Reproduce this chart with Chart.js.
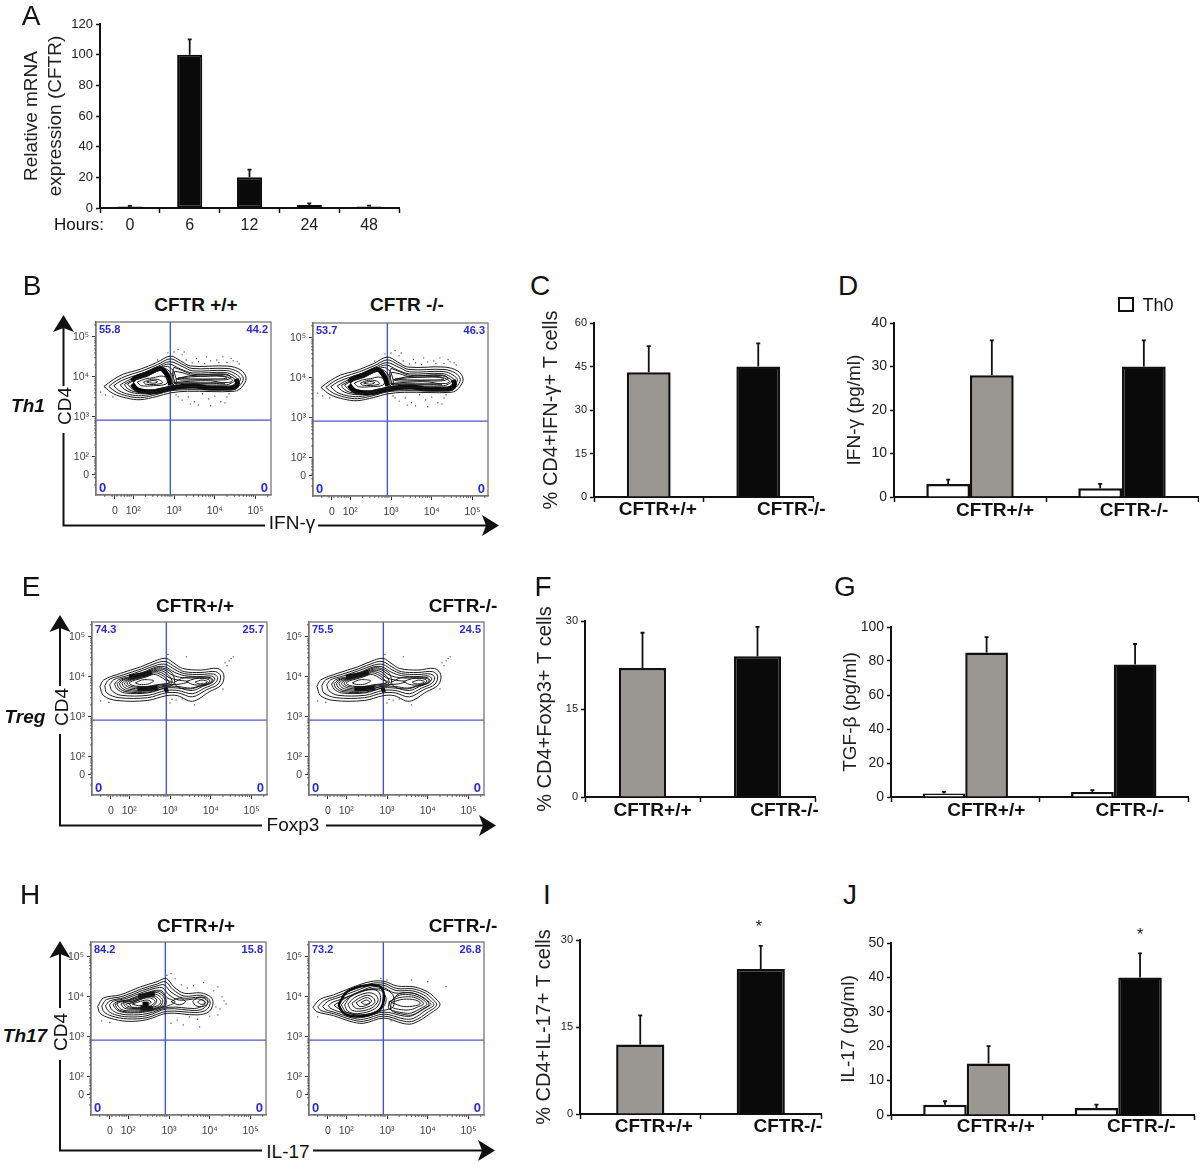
<!DOCTYPE html>
<html>
<head>
<meta charset="utf-8">
<title>CFTR T cell panels</title>
<script src="https://cdn.jsdelivr.net/npm/chart.js@4"></script>
<style>
    body { margin: 0; background: #fff; }
    #page { position: relative; width: 1200px; height: 1163px; overflow: hidden; font-family: 'Liberation Sans', Arial, sans-serif; color: #111; }
    #page canvas { position: absolute; }
    #page svg { position: absolute; left: 0; top: 0; }
    .txt { position: absolute; white-space: nowrap; line-height: 1; }
    .swatch { position: absolute; box-sizing: border-box; border: 2px solid #111; background: #fff; }
</style>
</head>
<body>
<div id="page">
    <svg width="1200" height="1163" stroke="#111" stroke-width="2" fill="#111">
        <path fill="none" d="M63.5 328V386M63.5 433V525.5H265M318 525.5H488"/>
        <path stroke="none" d="M63.5 315L74 332L63.5 328L53 332ZM499 525.5L482 515L486 525.5L482 536Z"/>
        <path fill="none" d="M60 628V686M60 734V825.5H262M326 825.5H484"/>
        <path stroke="none" d="M60 615L70.500 632L60 628L49.500 632ZM496 825.500L479 815L483 825.500L479 836Z"/>
        <path fill="none" d="M60 954V1008M60 1060V1150.500H262M313 1150.500H483"/>
        <path stroke="none" d="M60 941L70.500 958L60 954L49.500 958ZM495 1150.500L478 1140L482 1150.500L478 1161Z"/>
    </svg>
    <div class="swatch" style="left:1118px;top:297px;width:16px;height:15px"></div>
</div>
<script>
// ---- bar data
const hours = ['0', '6', '12', '24', '48']
const mrnaValues = [1, 100, 20, 2, 1]
const mrnaTops = [1.4, 110, 25, 3, 1.6]

const genotypes = ['CFTR+/+', 'CFTR-/-']

const ifnPct = [43, 45]
const ifnPctTops = [52, 53]
const ifnTh0 = [3, 2]
const ifnTh0Tops = [4, 3]
const ifnTh1 = [28, 30]
const ifnTh1Tops = [36, 36]

const foxp3Pct = [22, 24]
const foxp3PctTops = [28, 29]
const tgfTh0 = [2, 3]
const tgfTh0Tops = [3, 4]
const tgfTreg = [85, 78]
const tgfTregTops = [94, 90]

const il17Pct = [12, 25]
const il17PctTops = [17, 29]
const il17Th0 = [3, 2]
const il17Th0Tops = [4, 3]
const il17Th17 = [15, 40]
const il17Th17Tops = [20, 47]

// ---- flow plots, all values in decades of the log axis (2 = 10^2)
const flowTicks = [1.55, 2, 3, 4, 5]
const flowTickLabels = ['0', '10²', '10³', '10⁴', '10⁵']
const minorOffsets = [0.3, 0.48, 0.6, 0.7, 0.78, 0.85, 0.9, 0.95]
const gateX = 2.91
const gateY = 2.92

const th1Thin = [
    [1.28,3.76, 1.51,3.93, 1.76,4.07, 2.17,4.19, 2.58,4.36, 2.91,4.52, 3.16,4.40, 3.41,4.27, 4.31,4.27, 4.64,4.17, 4.77,3.97, 4.66,3.74, 4.48,3.64, 3.33,3.64, 2.91,3.60, 2.58,3.51, 2.17,3.43, 1.84,3.47, 1.51,3.58],
    [1.40,3.76, 1.58,3.90, 1.85,4.03, 2.22,4.15, 2.60,4.31, 2.91,4.45, 3.18,4.33, 3.44,4.21, 4.30,4.21, 4.58,4.12, 4.70,3.96, 4.60,3.77, 4.44,3.68, 3.33,3.68, 2.90,3.65, 2.58,3.56, 2.18,3.48, 1.86,3.52, 1.58,3.62],
    [1.52,3.78, 1.70,3.90, 1.95,4.00, 2.28,4.11, 2.60,4.26, 2.90,4.38, 3.20,4.26, 3.46,4.15, 4.28,4.16, 4.52,4.07, 4.63,3.95, 4.54,3.80, 4.40,3.72, 3.33,3.72, 2.90,3.69, 2.58,3.60, 2.20,3.53, 1.90,3.56, 1.66,3.65],
    [1.68,3.80, 1.85,3.90, 2.05,3.99, 2.32,4.08, 2.60,4.22, 2.88,4.32, 3.15,4.20, 3.45,4.10, 4.25,4.11, 4.46,4.03, 4.56,3.93, 4.48,3.82, 4.35,3.76, 3.35,3.76, 2.90,3.73, 2.60,3.64, 2.25,3.58, 1.95,3.61, 1.78,3.69],
    [3.00,4.24, 3.20,4.16, 3.48,4.06, 4.22,4.06, 4.42,3.99, 4.50,3.92, 4.40,3.84, 4.28,3.80, 3.35,3.80, 2.98,3.78, 2.95,4.00],
    [3.02,4.14, 3.22,4.10, 3.50,4.02, 4.18,4.03, 4.36,3.97, 4.44,3.91, 4.34,3.86, 3.35,3.85, 3.00,3.84, 2.98,4.00],
    [1.78,3.81, 1.92,3.89, 2.08,3.96, 2.34,4.05, 2.60,4.18, 2.84,4.26, 3.00,4.12, 3.05,3.80, 2.90,3.76, 2.60,3.67, 2.28,3.61, 1.99,3.64, 1.86,3.71],
    [1.86,3.82, 1.98,3.89, 2.10,3.94, 2.36,4.02, 2.60,4.15, 2.80,4.20, 2.95,4.05, 3.00,3.82, 2.60,3.70, 2.30,3.64, 2.03,3.67, 1.93,3.74],
    [3.05,3.95, 3.35,4.02, 3.80,4.06, 4.25,4.07, 4.40,4.00, 4.30,3.93, 3.70,3.93, 3.20,3.92],
    [3.10,3.97, 3.40,4.00, 3.90,4.02, 4.20,4.01, 4.30,3.97, 4.10,3.95, 3.40,3.95],
    [2.10,3.87, 2.30,3.95, 2.50,3.98, 2.70,4.02, 2.85,3.95, 2.80,3.82, 2.50,3.78, 2.20,3.78],
    [2.25,3.87, 2.45,3.94, 2.65,3.92, 2.72,3.85, 2.50,3.81, 2.30,3.82],
    [2.33,3.87, 2.48,3.91, 2.60,3.88, 2.48,3.84],
    [3.00,3.86, 3.40,3.84, 3.90,3.84, 4.25,3.83, 3.90,3.90, 3.40,3.89]
]
const th1Heavy = [
    [1.97,3.90, 2.05,3.97, 2.34,4.08, 2.67,4.21, 2.83,4.05, 2.92,3.80],
    [1.97,3.82, 2.10,3.68, 2.34,3.63, 2.60,3.64, 2.83,3.70, 3.20,3.76, 3.49,3.78, 3.80,3.73, 4.20,3.72, 4.48,3.74, 4.56,3.85, 4.52,3.95]
]
const th1DotsX = [1.2, 1.32, 1.5, 2.6, 3.0, 3.1, 3.2, 3.3, 3.45, 3.6, 3.75, 3.9, 4.05, 4.2, 4.3, 4.45, 4.6, 3.05, 3.2, 3.35, 3.5, 3.7, 3.85, 4.0, 4.15, 4.3, 3.6, 3.9, 4.25, 3.25, 3.55, 3.8, 4.1, 4.4, 4.55, 2.85, 3.1, 3.4, 4.35]
const th1DotsY = [3.62, 3.55, 3.5, 4.42, 4.62, 4.68, 4.55, 4.42, 4.35, 4.38, 4.33, 4.4, 4.42, 4.5, 4.36, 4.4, 4.32, 3.55, 3.42, 3.5, 3.38, 3.58, 3.45, 3.52, 3.38, 3.5, 3.3, 3.28, 3.35, 4.62, 4.46, 4.5, 4.36, 4.46, 4.38, 4.6, 3.5, 3.32, 3.58]

const tregThin = [
    [1.28,3.76, 1.37,3.92, 1.79,4.09, 2.28,4.25, 2.69,4.42, 2.91,4.46, 3.10,4.34, 3.31,4.21, 3.76,4.17, 4.17,4.21, 4.32,4.05, 4.26,3.80, 3.97,3.63, 3.55,3.39, 3.18,3.53, 2.91,3.53, 2.44,3.41, 1.70,3.41, 1.37,3.53],
    [1.40,3.78, 1.50,3.93, 1.85,4.05, 2.30,4.20, 2.70,4.36, 2.90,4.38, 3.12,4.25, 3.35,4.13, 3.76,4.11, 4.12,4.13, 4.24,4.02, 4.18,3.82, 3.90,3.68, 3.55,3.50, 3.20,3.60, 2.90,3.60, 2.45,3.48, 1.75,3.48, 1.45,3.60],
    [1.52,3.80, 1.62,3.93, 1.92,4.02, 2.32,4.16, 2.70,4.30, 2.90,4.31, 3.12,4.18, 3.36,4.08, 3.76,4.06, 4.07,4.07, 4.17,3.98, 4.10,3.84, 3.85,3.72, 3.55,3.58, 3.20,3.66, 2.90,3.66, 2.46,3.54, 1.80,3.54, 1.58,3.65],
    [1.64,3.82, 1.74,3.93, 2.00,4.00, 2.35,4.12, 2.68,4.25, 2.88,4.25, 3.10,4.12, 3.36,4.03, 3.76,4.01, 4.02,4.02, 4.10,3.95, 4.03,3.86, 3.80,3.76, 3.55,3.66, 3.20,3.72, 2.90,3.72, 2.46,3.60, 1.88,3.60, 1.70,3.70],
    [1.70,3.83, 1.80,3.92, 2.04,3.99, 2.36,4.10, 2.67,4.22, 2.86,4.21, 3.06,4.08, 3.10,3.84, 2.90,3.74, 2.46,3.62, 1.92,3.63, 1.75,3.72],
    [1.76,3.83, 1.85,3.92, 2.08,3.98, 2.38,4.08, 2.66,4.19, 2.85,4.18, 3.05,4.05, 3.30,3.98, 3.72,3.97, 3.98,3.96, 4.03,3.90, 3.95,3.84, 3.75,3.78, 3.50,3.72, 3.20,3.76, 2.88,3.76, 2.46,3.65, 1.95,3.66, 1.80,3.74],
    [1.82,3.84, 1.90,3.91, 2.12,3.97, 2.39,4.06, 2.64,4.16, 2.83,4.14, 3.00,4.00, 3.05,3.84, 2.90,3.78, 2.46,3.67, 2.00,3.69, 1.86,3.76],
    [1.88,3.84, 1.96,3.91, 2.15,3.96, 2.40,4.04, 2.62,4.13, 2.80,4.10, 2.98,3.98, 3.20,3.92, 3.45,3.88, 3.25,3.82, 2.95,3.80, 2.70,3.76, 2.45,3.70, 2.05,3.72, 1.92,3.78],
    [1.94,3.85, 2.02,3.91, 2.18,3.95, 2.41,4.02, 2.61,4.10, 2.77,4.06, 2.92,3.95, 2.98,3.85, 2.65,3.78, 2.45,3.73, 2.10,3.75, 1.98,3.79],
    [2.00,3.85, 2.08,3.90, 2.22,3.94, 2.42,4.00, 2.60,4.06, 2.74,4.02, 2.88,3.93, 3.05,3.87, 2.90,3.83, 2.65,3.80, 2.45,3.76, 2.15,3.77, 2.03,3.81],
    [2.15,3.85, 2.30,3.92, 2.45,3.93, 2.60,3.90, 2.45,3.82, 2.25,3.81],
    [3.10,3.86, 3.35,3.98, 3.72,3.99, 3.99,3.98, 4.06,3.90, 3.96,3.82, 3.72,3.76, 3.50,3.70, 3.20,3.74],
    [3.40,3.88, 3.60,3.95, 3.85,3.96, 3.98,3.90, 3.88,3.82, 3.60,3.80],
    [3.62,3.87, 3.78,3.92, 3.92,3.88, 3.82,3.83, 3.68,3.83]
]
const tregHeavy = [
    [2.00,3.99, 2.20,4.03, 2.40,4.07, 2.55,4.12],
    [2.20,3.71, 2.45,3.71, 2.70,3.73],
    [2.86,3.66, 2.95,3.70]
]
const tregDotsX = [1.3, 1.5, 2.95, 3.4, 3.3, 4.35, 4.45, 4.5, 4.55, 3.0, 3.05, 3.6, 4.3, 4.4, 3.15]
const tregDotsY = [3.4, 3.36, 4.56, 4.5, 3.45, 4.35, 4.4, 4.46, 4.5, 3.35, 3.44, 3.3, 3.7, 4.28, 3.42]

const th17wtThin = [
    [1.25,3.76, 1.39,3.97, 1.80,4.05, 2.30,4.25, 2.71,4.38, 2.93,4.46, 3.12,4.25, 3.37,4.09, 3.78,4.10, 4.02,4.00, 4.08,3.84, 3.98,3.63, 3.69,3.55, 2.95,3.59, 2.46,3.43, 1.97,3.39, 1.55,3.47, 1.31,3.59],
    [1.35,3.77, 1.46,3.93, 1.85,4.01, 2.33,4.20, 2.71,4.32, 2.91,4.38, 3.10,4.18, 3.37,4.02, 3.78,4.04, 3.96,3.96, 4.01,3.84, 3.92,3.68, 3.69,3.61, 2.95,3.64, 2.46,3.48, 1.98,3.45, 1.60,3.52, 1.40,3.63],
    [1.44,3.78, 1.55,3.90, 1.90,3.98, 2.35,4.16, 2.70,4.27, 2.88,4.30, 3.05,4.12, 3.34,3.97, 3.76,3.99, 3.91,3.93, 3.95,3.84, 3.86,3.72, 3.66,3.66, 2.95,3.70, 2.46,3.53, 2.00,3.50, 1.66,3.56, 1.50,3.66],
    [1.54,3.80, 1.63,3.89, 1.95,3.96, 2.37,4.12, 2.68,4.22, 2.85,4.22, 3.00,4.05, 3.25,3.92, 3.70,3.95, 3.85,3.90, 3.88,3.84, 3.80,3.76, 3.62,3.71, 3.00,3.74, 2.46,3.58, 2.02,3.55, 1.72,3.60, 1.58,3.70],
    [1.63,3.81, 1.72,3.88, 2.00,3.93, 2.38,4.08, 2.66,4.16, 2.82,4.15, 2.95,3.98, 3.15,3.88, 2.98,3.78, 2.46,3.63, 2.04,3.60, 1.78,3.64, 1.67,3.73],
    [1.68,3.82, 1.76,3.88, 2.02,3.92, 2.39,4.06, 2.65,4.14, 2.80,4.12, 2.92,3.96, 2.90,3.78, 2.46,3.65, 2.05,3.62, 1.80,3.66, 1.71,3.74],
    [1.72,3.82, 1.80,3.87, 2.05,3.91, 2.40,4.04, 2.63,4.11, 2.78,4.08, 2.90,3.93, 2.85,3.78, 2.46,3.67, 2.06,3.65, 1.84,3.68, 1.76,3.76],
    [1.82,3.82, 1.90,3.87, 2.10,3.89, 2.40,4.00, 2.60,4.04, 2.72,3.98, 2.80,3.88, 2.72,3.78, 2.44,3.71, 2.10,3.69, 1.90,3.72],
    [1.88,3.83, 1.96,3.87, 2.12,3.90, 2.40,4.02, 2.60,4.08, 2.75,4.03, 2.85,3.90, 2.76,3.76, 2.45,3.69, 2.12,3.71, 1.95,3.74],
    [1.94,3.82, 2.10,3.86, 2.38,3.96, 2.55,3.97, 2.66,3.88, 2.55,3.78, 2.35,3.74, 2.10,3.74, 1.98,3.77],
    [2.02,3.83, 2.15,3.87, 2.40,3.98, 2.58,4.00, 2.70,3.92, 2.60,3.76, 2.35,3.72, 2.12,3.72],
    [2.10,3.82, 2.30,3.89, 2.48,3.92, 2.56,3.86, 2.45,3.80, 2.25,3.78],
    [3.58,3.88, 3.70,3.98, 3.88,3.98, 3.96,3.87, 3.84,3.76, 3.66,3.78],
    [3.70,3.87, 3.80,3.93, 3.90,3.86, 3.80,3.81],
    [3.05,3.88, 3.25,3.97, 3.40,3.88, 3.25,3.80]
]
const th17wtHeavy = [
    [2.25,4.00, 2.45,4.05, 2.65,4.07],
    [2.30,3.72, 2.45,3.72, 2.60,3.70],
    [2.35,3.82, 2.50,3.82]
]
const th17wtDotsX = [1.35, 1.55, 2.95, 3.05, 3.15, 3.3, 3.45, 3.6, 3.85, 4.1, 4.2, 4.3, 4.35, 4.15, 4.25, 4.0, 3.7, 3.5, 3.35, 3.2, 3.05, 3.75, 4.2, 4.4]
const th17wtDotsY = [3.4, 3.36, 4.54, 4.58, 4.45, 4.3, 4.22, 4.28, 4.36, 4.15, 4.25, 4.0, 3.9, 3.75, 3.7, 3.52, 3.44, 3.5, 3.3, 3.42, 3.34, 3.25, 3.55, 3.82]

const th17koThin = [
    [1.18,3.74, 1.36,3.94, 1.69,4.05, 2.18,4.25, 2.59,4.38, 2.92,4.39, 3.25,4.27, 3.66,4.25, 3.99,4.13, 4.15,4.00, 4.30,3.80, 4.07,3.59, 3.66,3.34, 3.42,3.33, 2.92,3.47, 2.42,3.34, 2.09,3.39, 1.69,3.53, 1.28,3.63],
    [1.30,3.75, 1.46,3.91, 1.74,4.01, 2.22,4.20, 2.60,4.33, 2.92,4.34, 3.24,4.21, 3.64,4.20, 3.95,4.09, 4.09,3.97, 4.22,3.80, 4.02,3.63, 3.66,3.40, 3.42,3.39, 2.92,3.52, 2.42,3.39, 2.10,3.44, 1.72,3.57, 1.38,3.66],
    [1.42,3.76, 1.55,3.89, 1.80,3.98, 2.26,4.16, 2.62,4.29, 2.92,4.29, 3.22,4.16, 3.62,4.15, 3.90,4.05, 4.03,3.94, 4.15,3.80, 3.96,3.67, 3.64,3.46, 3.42,3.45, 2.92,3.57, 2.42,3.44, 2.12,3.48, 1.76,3.60, 1.50,3.68],
    [1.56,3.78, 1.67,3.87, 1.88,3.94, 2.30,4.12, 2.64,4.25, 2.90,4.24, 3.18,4.10, 3.60,4.10, 3.85,4.01, 3.97,3.92, 4.08,3.81, 3.90,3.71, 3.62,3.53, 3.42,3.52, 2.92,3.62, 2.42,3.49, 2.14,3.53, 1.82,3.63, 1.62,3.71],
    [1.70,3.79, 1.82,3.87, 2.00,3.98, 2.34,4.12, 2.66,4.21, 2.90,4.20, 3.14,4.06, 3.15,3.75, 2.90,3.66, 2.42,3.54, 2.16,3.57, 1.88,3.66],
    [1.88,3.80, 2.02,3.95, 2.40,4.14, 2.70,4.18, 2.88,4.14, 2.98,3.92, 2.84,3.68, 2.35,3.55, 2.00,3.62],
    [3.12,3.92, 3.30,4.08, 3.60,4.10, 3.85,4.00, 4.03,3.82, 3.88,3.68, 3.62,3.55, 3.42,3.56, 3.10,3.67],
    [3.05,3.86, 3.30,4.04, 3.60,4.05, 3.82,3.97, 3.98,3.82, 3.84,3.72, 3.60,3.60, 3.40,3.60, 3.05,3.70],
    [3.05,3.88, 3.30,3.98, 3.60,4.00, 3.78,3.94, 3.90,3.83, 3.78,3.76, 3.58,3.68, 3.35,3.68, 3.10,3.75],
    [3.10,3.86, 3.40,3.94, 3.70,3.92, 3.82,3.84, 3.70,3.78, 3.40,3.76],
    [1.96,3.80, 2.12,4.02, 2.50,4.18, 2.78,4.14, 2.84,3.92, 2.70,3.70, 2.28,3.58, 2.04,3.64],
    [2.04,3.82, 2.20,3.98, 2.52,4.10, 2.72,4.05, 2.78,3.90, 2.62,3.72, 2.30,3.64, 2.12,3.68],
    [2.14,3.84, 2.30,3.96, 2.52,4.04, 2.66,3.98, 2.70,3.86, 2.56,3.76, 2.32,3.70, 2.20,3.74],
    [2.24,3.85, 2.38,3.94, 2.52,3.98, 2.62,3.90, 2.52,3.80, 2.34,3.76],
    [2.36,3.86, 2.50,3.92, 2.58,3.86, 2.48,3.81]
]
const th17koHeavy = [
    [1.81,3.80, 2.02,4.13, 2.51,4.29, 2.85,4.24, 2.92,3.92, 2.76,3.63, 2.27,3.51, 1.94,3.59, 1.81,3.80]
]
const th17koDotsX = [2.85, 3.0, 3.6, 4.0, 4.45, 1.3, 3.1]
const th17koDotsY = [4.46, 4.42, 4.42, 4.38, 4.26, 3.5, 3.4]

// ---- helpers
const page = document.getElementById('page')
const SANS = "'Liberation Sans', Arial, sans-serif"
const NARROW = "'Liberation Sans Narrow', 'Liberation Sans', sans-serif"
const GRAY = '#9a9691'
const BLACK = '#0a0a0a'

const toPoints = (flat, closed) => {
    const pts = []
    for (let i = 0; i < flat.length; i += 2) pts.push({ x: flat[i], y: flat[i + 1] })
    if (closed) pts.push(pts[0])
    return pts
}

// the axes keep exactly the room we give them, no extra padding for half labels
const fixBox = (s, height, width) => {
    if (height !== null) s.height = height
    if (width !== null) s.width = width
    s.paddingTop = s.paddingBottom = s.paddingLeft = s.paddingRight = 0
}

function addCanvas(left, top, width, height) {
    const c = document.createElement('canvas')
    c.width = width
    c.height = height
    c.style.left = left + 'px'
    c.style.top = top + 'px'
    page.appendChild(c)
    return c.getContext('2d')
}

function putText(text, x, y, font, rot) {
    const d = document.createElement('div')
    d.className = 'txt'
    d.textContent = text
    d.style.left = x + 'px'
    d.style.top = y + 'px'
    d.style.font = font
    d.style.transform = 'translate(-50%,-50%)' + (rot ? ' rotate(' + rot + 'deg)' : '')
    page.appendChild(d)
}

// error whiskers, shifted category labels and stars
const barExtras = {
    id: 'barExtras',
    afterDatasetsDraw(chart, args, opts) {
        const { ctx, scales, chartArea } = chart
        ctx.save()
        ctx.strokeStyle = '#111'
        ctx.lineWidth = 1.8
        chart.data.datasets.forEach((ds, i) => {
            chart.getDatasetMeta(i).data.forEach((bar, j) => {
                const yTop = scales.y.getPixelForValue(ds.tops[j])
                ctx.beginPath()
                ctx.moveTo(bar.x, bar.y)
                ctx.lineTo(bar.x, yTop)
                ctx.moveTo(bar.x - 2, yTop)
                ctx.lineTo(bar.x + 2, yTop)
                ctx.stroke()
                if (opts.stars && opts.stars[j] && i === chart.data.datasets.length - 1) {
                    ctx.fillStyle = '#111'
                    ctx.font = '16px ' + SANS
                    ctx.textAlign = 'center'
                    ctx.textBaseline = 'middle'
                    ctx.fillText('*', bar.x + opts.starDx, yTop - opts.starGap)
                }
            })
        })
        if (opts.labelShift) {
            ctx.fillStyle = '#111'
            ctx.font = 'bold 19px ' + SANS
            ctx.textAlign = 'center'
            ctx.textBaseline = 'middle'
            chart.data.labels.forEach((label, i) => {
                ctx.fillText(label, scales.x.getPixelForValue(i) + opts.labelShift[i], chartArea.bottom + opts.labelY)
            })
        }
        ctx.restore()
    },
}

function barPanel(p) {
    const pad = p.padTop || 8
    const padRight = p.padRight || 20
    const bottom = p.bottom || 30
    const w = p.axisEnd - p.axisX + p.gutter + padRight
    const h = p.y0 - p.yTop + pad + bottom
    const ctx = addCanvas(p.axisX - p.gutter, p.yTop - pad, w, h)
    new Chart(ctx, {
        type: 'bar',
        data: { labels: p.labels, datasets: p.datasets },
        options: {
            responsive: false,
            animation: false,
            layout: { padding: { top: pad, right: padRight } },
            plugins: {
                legend: { display: false },
                tooltip: { enabled: false },
                barExtras: { labelShift: p.labelShift, labelY: p.labelY, stars: p.stars, starDx: p.starDx, starGap: p.starGap },
            },
            scales: {
                x: {
                    ticks: p.xTicks || { display: false },
                    border: { color: '#111', width: 2 },
                    grid: { drawOnChartArea: false, tickLength: 5, tickColor: '#111', tickWidth: 1.5 },
                    afterFit: (s) => fixBox(s, bottom, null),
                },
                y: {
                    min: 0,
                    max: p.max,
                    ticks: { stepSize: p.step, padding: 3, color: '#222', font: p.tickFont },
                    border: { color: '#111', width: 2 },
                    grid: { drawOnChartArea: false, tickLength: 4, tickColor: '#111', tickWidth: 1.5 },
                    title: { display: true, text: p.title, color: '#222', padding: 0, font: { family: SANS, size: p.titleSize || 19, lineHeight: p.titleLine || 1.2 } },
                    afterFit: (s) => fixBox(s, null, p.gutter),
                },
            },
        },
        plugins: [barExtras],
    })
}

const singleSet = (values, tops, bw) => [{
    data: values, tops: tops, backgroundColor: [GRAY, BLACK], borderColor: '#111', borderWidth: 2.5,
    barPercentage: bw, categoryPercentage: 1,
}]

const pairSet = (th0, th0Tops, main, mainTops) => [
    { label: 'Th0', data: th0, tops: th0Tops, backgroundColor: '#fff', borderColor: '#111', borderWidth: 2.5, barPercentage: 1, categoryPercentage: 0.575 },
    { label: 'Stimulated', data: main, tops: mainTops, backgroundColor: [GRAY, BLACK], borderColor: '#111', borderWidth: 2.5, barPercentage: 1, categoryPercentage: 0.575 },
]

// frame, minor ticks and quadrant numbers of a flow plot
const flowExtras = {
    id: 'flowExtras',
    afterDraw(chart, args, opts) {
        const { ctx, scales, chartArea: a } = chart
        ctx.save()
        ctx.strokeStyle = '#777'
        ctx.lineWidth = 1.3
        ctx.strokeRect(a.left, a.top, a.right - a.left, a.bottom - a.top)
        ctx.strokeStyle = '#444'
        ctx.lineWidth = 0.8
        ctx.beginPath()
        ;[1, 2, 3, 4, 5].forEach((dec) => {
            minorOffsets.forEach((m) => {
                const px = scales.x.getPixelForValue(dec + m)
                const py = scales.y.getPixelForValue(dec + m)
                if (dec + m < scales.x.max && dec + m > scales.x.min) {
                    ctx.moveTo(px, a.bottom)
                    ctx.lineTo(px, a.bottom + 2)
                }
                if (dec + m < scales.y.max && dec + m > scales.y.min) {
                    ctx.moveTo(a.left, py)
                    ctx.lineTo(a.left - 2, py)
                }
            })
        })
        ctx.stroke()
        ctx.fillStyle = '#2a2ad2'
        ctx.textBaseline = 'middle'
        ctx.font = 'bold 11px ' + SANS
        ctx.textAlign = 'left'
        ctx.fillText(opts.quads[0], a.left + 3, a.top + 8)
        ctx.textAlign = 'right'
        ctx.fillText(opts.quads[1], a.right - 3, a.top + 8)
        ctx.font = 'bold 13px ' + SANS
        ctx.textAlign = 'left'
        ctx.fillText(opts.quads[2], a.left + 3, a.bottom - 7)
        ctx.textAlign = 'right'
        ctx.fillText(opts.quads[3], a.right - 3, a.bottom - 7)
        ctx.restore()
    },
}

function flowPlot(left, top, thin, heavy, heavyWidth, dotsX, dotsY, quads) {
    const gutter = 30, pad = 6, bottom = 26, padRight = 12
    const ctx = addCanvas(left - gutter, top - pad, 175 + gutter + padRight, 173.5 + pad + bottom)
    const datasets = []
    thin.forEach((flat) => datasets.push({ data: toPoints(flat, true), showLine: true, tension: 0.35, borderColor: '#1c1c1c', borderWidth: 1, pointRadius: 0 }))
    heavy.forEach((flat) => datasets.push({ data: toPoints(flat, false), showLine: true, tension: 0.35, borderColor: '#000', borderWidth: heavyWidth, pointRadius: 0 }))
    datasets.push({ data: dotsX.map((x, i) => ({ x: x, y: dotsY[i] })), showLine: false, pointRadius: 0.7, backgroundColor: '#444', borderWidth: 0 })
    datasets.push({ data: [{ x: gateX, y: 1 }, { x: gateX, y: 5.5 }], showLine: true, borderColor: '#4a55c8', borderWidth: 1.4, pointRadius: 0 })
    datasets.push({ data: [{ x: 1, y: gateY }, { x: 5.5, y: gateY }], showLine: true, borderColor: '#4a55c8', borderWidth: 1.4, pointRadius: 0 })
    const tickScale = (size) => ({
        min: size === 'x' ? 1.086 : 1.05,
        max: size === 'x' ? 5.38 : 5.37,
        afterBuildTicks: (s) => { s.ticks = flowTicks.map((v) => ({ value: v })) },
        ticks: {
            autoSkip: false,
            maxRotation: 0,
            padding: size === 'x' ? 6 : 3,
            color: '#444',
            font: { family: SANS, size: 10.5 },
            callback: (v) => flowTickLabels[flowTicks.indexOf(v)],
        },
        border: { color: '#777', width: 1.3 },
        grid: { drawOnChartArea: false, tickLength: 4, tickColor: '#333', tickWidth: 1 },
        afterFit: (s) => fixBox(s, size === 'x' ? bottom : null, size === 'x' ? null : gutter),
    })
    new Chart(ctx, {
        type: 'scatter',
        data: { datasets: datasets },
        options: {
            responsive: false,
            animation: false,
            layout: { padding: { top: pad, right: padRight } },
            plugins: { legend: { display: false }, tooltip: { enabled: false }, flowExtras: { quads: quads } },
            scales: { x: tickScale('x'), y: tickScale('y') },
        },
        plugins: [flowExtras],
    })
}

// ---- panels
barPanel({
    axisX: 100, axisEnd: 399, yTop: 24, y0: 208, gutter: 81, padTop: 12, bottom: 32, padRight: 6,
    labels: hours, max: 120, step: 20,
    datasets: [{ data: mrnaValues, tops: mrnaTops, backgroundColor: BLACK, borderColor: BLACK, borderWidth: 2, borderSkipped: false, barPercentage: 0.42, categoryPercentage: 1 }],
    xTicks: { padding: 3, color: '#222', font: { family: SANS, size: 16 } },
    tickFont: { family: SANS, size: 13 },
    title: ['Relative mRNA', 'expression (CFTR)'], titleSize: 19, titleLine: 1.3,
})
barPanel({
    axisX: 593.7, axisEnd: 812.7, yTop: 323, y0: 497, gutter: 55, padTop: 20, labels: genotypes, max: 60, step: 15,
    datasets: singleSet(ifnPct, ifnPctTops, 0.4), labelShift: [9, 33], labelY: 13,
    tickFont: { family: NARROW, size: 11 }, title: '% CD4+IFN-γ+ T cells', titleSize: 20,
})
barPanel({
    axisX: 894, axisEnd: 1198.7, yTop: 323, y0: 497, gutter: 51, padRight: 1, labels: genotypes, max: 40, step: 10,
    datasets: pairSet(ifnTh0, ifnTh0Tops, ifnTh1, ifnTh1Tops), labelShift: [25, 12], labelY: 14,
    tickFont: { family: NARROW, size: 14 }, title: 'IFN-γ (pg/ml)',
})
barPanel({
    axisX: 585, axisEnd: 815.7, yTop: 621, y0: 797.3, gutter: 52, padTop: 20, labels: genotypes, max: 30, step: 15,
    datasets: singleSet(foxp3Pct, foxp3PctTops, 0.41), labelShift: [10, 27], labelY: 14,
    tickFont: { family: NARROW, size: 11 }, title: '% CD4+Foxp3+ T cells', titleSize: 20,
})
barPanel({
    axisX: 891, axisEnd: 1188.7, yTop: 627.3, y0: 797.7, gutter: 52, padRight: 11, labels: genotypes, max: 100, step: 20,
    datasets: pairSet(tgfTh0, tgfTh0Tops, tgfTreg, tgfTregTops), labelShift: [21, 16], labelY: 14,
    tickFont: { family: NARROW, size: 14 }, title: 'TGF-β (pg/ml)',
})
barPanel({
    axisX: 579.5, axisEnd: 820.5, yTop: 940, y0: 1114, gutter: 48, padTop: 26, labels: genotypes, max: 30, step: 15,
    datasets: singleSet(il17Pct, il17PctTops, 0.4), labelShift: [13.5, 27], labelY: 13,
    stars: [false, true], starDx: -2, starGap: 18,
    tickFont: { family: NARROW, size: 11 }, title: '% CD4+IL-17+ T cells', titleSize: 20,
})
barPanel({
    axisX: 891, axisEnd: 1194, yTop: 943.3, y0: 1115.7, gutter: 54, padTop: 20, padRight: 5, labels: genotypes, max: 50, step: 10,
    datasets: pairSet(il17Th0, il17Th0Tops, il17Th17, il17Th17Tops), labelShift: [29, 23], labelY: 12,
    stars: [false, true], starDx: 0, starGap: 18,
    tickFont: { family: NARROW, size: 14 }, title: 'IL-17 (pg/ml)',
})

flowPlot(96, 321.7, th1Thin, th1Heavy, 5, th1DotsX, th1DotsY, ['55.8', '44.2', '0', '0'])
flowPlot(313.3, 322.7, th1Thin, th1Heavy, 5, th1DotsX, th1DotsY, ['53.7', '46.3', '0', '0'])
flowPlot(91.7, 621.7, tregThin, tregHeavy, 5, tregDotsX, tregDotsY, ['74.3', '25.7', '0', '0'])
flowPlot(309.3, 621.7, tregThin, tregHeavy, 5, tregDotsX, tregDotsY, ['75.5', '24.5', '0', '0'])
flowPlot(91, 941.7, th17wtThin, th17wtHeavy, 5, th17wtDotsX, th17wtDotsY, ['84.2', '15.8', '0', '0'])
flowPlot(308.7, 941.7, th17koThin, th17koHeavy, 2.5, th17koDotsX, th17koDotsY, ['73.2', '26.8', '0', '0'])

// ---- free text
const letterFont = '28px ' + SANS
;[['A', 31, 16], ['B', 32, 286], ['C', 540, 286], ['D', 848, 286], ['E', 31, 587], ['F', 543, 587],
    ['G', 845, 587], ['H', 30, 895], ['I', 547, 895], ['J', 850, 895]].forEach((l) => putText(l[0], l[1], l[2], letterFont))

putText('Hours:', 79, 225, '17px ' + SANS)
putText('Th0', 1158, 305, '18px ' + SANS)

const headFont = 'bold 19px ' + SANS
putText('CFTR +/+', 196, 305, headFont)
putText('CFTR -/-', 407, 305, headFont)
putText('CFTR+/+', 195, 606, headFont)
putText('CFTR-/-', 463, 606, headFont)
putText('CFTR+/+', 196, 926, headFont)
putText('CFTR-/-', 463, 926, headFont)

const rowFont = 'italic bold 19px ' + SANS
putText('Th1', 28, 406, rowFont)
putText('Treg', 25, 717, rowFont)
putText('Th17', 25, 1036, rowFont)

const axisFont = '19px ' + SANS
putText('CD4', 65, 406, axisFont, -90)
putText('CD4', 62, 707, axisFont, -90)
putText('CD4', 61, 1032, axisFont, -90)
putText('IFN-γ', 292, 523, axisFont)
putText('Foxp3', 293, 825, axisFont)
putText('IL-17', 288, 1152, axisFont)
</script>
</body>
</html>
